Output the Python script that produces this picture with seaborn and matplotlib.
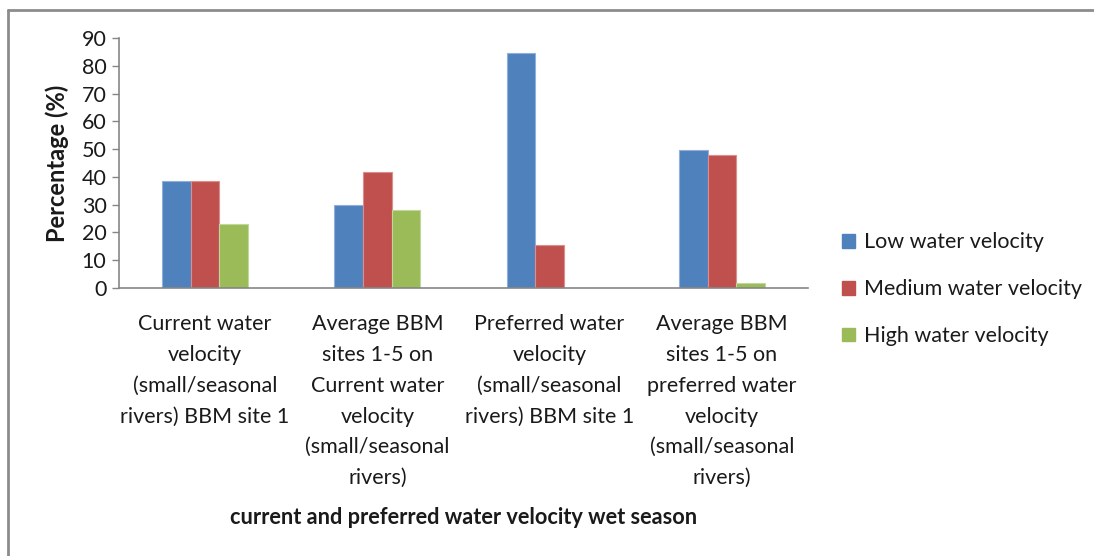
import matplotlib
matplotlib.use("Agg")
import matplotlib.pyplot as plt
from matplotlib.lines import Line2D
import pandas as pd
import seaborn as sns

# Survey results: share of respondents per water-velocity class
categories = [
    "Current water\nvelocity\n(small/seasonal\nrivers) BBM site 1",
    "Average BBM\nsites 1-5 on\nCurrent water\nvelocity\n(small/seasonal\nrivers)",
    "Preferred water\nvelocity\n(small/seasonal\nrivers) BBM site 1",
    "Average BBM\nsites 1-5 on\npreferred water\nvelocity\n(small/seasonal\nrivers)",
]
series_names = ["Low water velocity", "Medium water velocity", "High water velocity"]
low_values = [38.5, 30.0, 84.6, 49.8]
medium_values = [38.5, 41.6, 15.4, 48.0]
high_values = [23.1, 28.0, 0.0, 1.8]
y_ticks = [0, 10, 20, 30, 40, 50, 60, 70, 80, 90]

colors = ["#4F81BD", "#C0504D", "#9BBB59"]
edge_colors = ["#8FB0DA", "#DC8E8C", "#C0D89A"]

rows = []
for name, vals in zip(series_names, [low_values, medium_values, high_values]):
    for cat, v in zip(categories, vals):
        rows.append({"category": cat, "series": name, "value": v})
df = pd.DataFrame(rows)

sns.set_style("white")
plt.rcParams["font.family"] = ["Lato", "DejaVu Sans"]

fig = plt.figure(figsize=(10.94, 5.56), dpi=100)
ax = fig.add_axes([119 / 1094, 1 - 288 / 556, (808 - 119) / 1094, 250 / 556])

sns.barplot(
    data=df, x="category", y="value", hue="series",
    hue_order=series_names, order=categories,
    palette=colors, width=0.5, saturation=1, ax=ax, legend=False,
)
for container, ec in zip(ax.containers, edge_colors):
    for bar in container:
        bar.set_edgecolor(ec)
        bar.set_linewidth(0.8)

ax.set_ylim(0, 90)
ax.set_xlim(-0.5, len(categories) - 0.5)
ax.set_yticks(y_ticks)
ax.tick_params(axis="y", which="major", direction="out", length=5, width=1,
               color="#868686", labelsize=15.5, labelcolor="#1a1a1a", pad=4,
               left=True)
ax.tick_params(axis="x", length=0, labelsize=15.5, labelcolor="#1a1a1a", pad=19)
for lbl in ax.get_xticklabels():
    lbl.set_linespacing(1.67)
    lbl.set_verticalalignment("top")

for side in ["top", "right"]:
    ax.spines[side].set_visible(False)
for side in ["left", "bottom"]:
    ax.spines[side].set_color("#868686")
    ax.spines[side].set_linewidth(1.2)

ax.set_ylabel("Percentage (%)", fontsize=17, fontweight="bold", color="#1a1a1a")
ax.yaxis.set_label_coords(-0.072, 0.5)
ax.set_xlabel("current and preferred water velocity wet season", fontsize=15.7,
              fontweight="bold", color="#1a1a1a", labelpad=14)

handles = [plt.Rectangle((0, 0), 1, 1, facecolor=c, edgecolor=c) for c in colors]
fig.legend(handles, series_names, loc="upper left",
           bbox_to_anchor=(823 / 1094, 1 - 213 / 556), frameon=False,
           fontsize=15.5, handlelength=0.6, handleheight=0.6,
           handletextpad=0.4, labelspacing=1.25, labelcolor="#1a1a1a")

# chart frame
fig.add_artist(Line2D([8 / 1094, 8 / 1094], [0, 1 - 10 / 556], color="#8c8c8c", lw=2))
fig.add_artist(Line2D([8 / 1094, 1], [1 - 10 / 556, 1 - 10 / 556], color="#8c8c8c", lw=2))

fig.savefig("out.png", dpi=100)
